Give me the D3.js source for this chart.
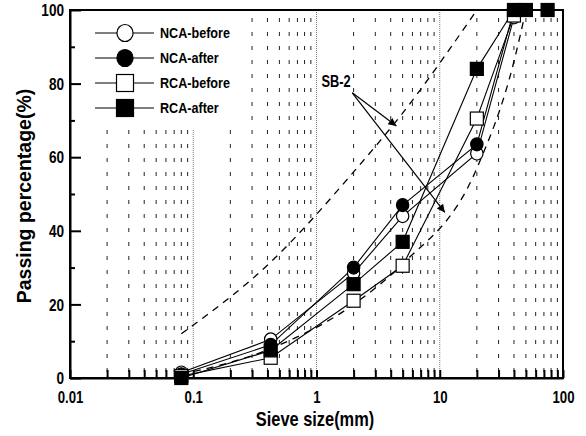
<!DOCTYPE html>
<html><head><meta charset="utf-8">
<script src="https://cdn.jsdelivr.net/npm/d3@7"></script>
<style>
html,body{margin:0;padding:0;background:#fff;}
text{font-family:'Liberation Sans',Arial,sans-serif;font-weight:bold;fill:#000;}
</style></head>
<body><svg id="c" width="586" height="436"></svg>
<script>
// ---- data ----
const sieves = [0.08, 0.425, 2, 5, 20, 40];
const ncaBefore = [1.5, 10.5, 28.5, 44, 61, 98];
const ncaAfter = [1, 9, 30, 47, 63.5, 100];
const rcaBefore = [0.5, 5.5, 21, 30.5, 70.5, 98.5];
const rcaAfterSieves = [0.08, 0.425, 2, 5, 20, 40, 50, 75];
const rcaAfter = [0, 7.5, 25.5, 37, 84, 100, 100, 100];
const sbUpperSieves = [0.08, 0.425, 2, 5, 20];
const sbUpper = [12, 31.5, 56, 72, 100];
const sbLowerSieves = [0.08, 0.425, 2, 5, 20, 40, 50];
const sbLower = [1, 8, 20, 31, 57, 86, 100];
const xTickLabels = ["0.01", "0.1", "1", "10", "100"];
const yTickLabels = ["0", "20", "40", "60", "80", "100"];
const seriesNames = ["NCA-before", "NCA-after", "RCA-before", "RCA-after"];
// annotation anchors (data coords)
const sbLabel = {x: 1.1, y: 79, text: "SB-2"};
const arrowStart = {x: 1.95, y: 77.5};
const arrowEnds = [{x: 4.45, y: 68.5}, {x: 11, y: 45}];

const svg = d3.select("#c");
const L = 70, R = 563, T = 10, B = 378;
const x = d3.scaleLog().domain([0.01, 100]).range([L, R]);
const y = d3.scaleLinear().domain([0, 100]).range([B, T]);

// horizontal condensing of text around its anchor x
function condense(sel, s) {
  sel.each(function () {
    const t = d3.select(this);
    const ax = +t.attr("x") || 0;
    t.attr("transform", `translate(${ax * (1 - s)},0) scale(${s},1)`);
  });
}

// grid
const decades = [0.01, 0.1, 1, 10];
const minorVals = [];
decades.forEach(d => { for (let k = 2; k <= 9; k++) minorVals.push(d * k); });
const grid = svg.append("g");
grid.selectAll("line.mn").data(minorVals).enter().append("line")
  .attr("x1", d => x(d)).attr("x2", d => x(d)).attr("y1", T + 8).attr("y2", B)
  .attr("stroke", "#222").attr("stroke-width", 1).attr("stroke-dasharray", "4,10");
grid.selectAll("line.mj").data([0.1, 1, 10]).enter().append("line")
  .attr("x1", d => x(d)).attr("x2", d => x(d)).attr("y1", T).attr("y2", B)
  .attr("stroke", "#777").attr("stroke-width", 1).attr("stroke-dasharray", "1,1");

// legend background
svg.append("rect").attr("x", L + 2).attr("y", T + 2).attr("width", 170).attr("height", 118).attr("fill", "#fff");

// frame
svg.append("rect").attr("x", L).attr("y", T).attr("width", R - L).attr("height", B - T)
  .attr("fill", "none").attr("stroke", "#000").attr("stroke-width", 2);

// axes
const allX = decades.flatMap(d => d3.range(1, 10).map(k => d * k)).concat([100]);
const xAxis = d3.axisBottom(x).tickValues(allX).tickSizeInner(-8).tickSizeOuter(0)
  .tickFormat(d => { const i = [0.01, 0.1, 1, 10, 100].findIndex(v => Math.abs(v - d) < 1e-9); return i >= 0 ? xTickLabels[i] : ""; });
const gx = svg.append("g").attr("transform", `translate(0,${B})`).call(xAxis);
gx.select(".domain").attr("stroke-width", 2);
gx.selectAll(".tick line").attr("stroke-width", 2);
gx.selectAll("text").attr("font-size", 16.5).attr("y", 25).attr("dy", 0);
condense(gx.selectAll("text"), 0.8);

const yAxis = d3.axisLeft(y).tickValues(d3.range(0, 101, 10)).tickSizeOuter(0)
  .tickFormat(d => d % 20 === 0 ? yTickLabels[d / 20] : "");
const gy = svg.append("g").attr("transform", `translate(${L},0)`).call(yAxis);
gy.select(".domain").attr("stroke-width", 2);
gy.selectAll(".tick line").attr("x2", d => d % 20 === 0 ? 11 : 5).attr("stroke-width", 2);
gy.selectAll("text").attr("font-size", 17).attr("x", -6).attr("dy", "0.34em");
condense(gy.selectAll("text"), 0.8);

// axis titles
const xt = svg.append("text").attr("x", 315).attr("y", 426).attr("text-anchor", "middle")
  .attr("font-size", 20).text("Sieve size(mm)");
condense(xt, 0.82);
svg.append("g").attr("transform", `translate(31,${(T + B) / 2 + 2}) rotate(-90)`)
  .append("text").attr("text-anchor", "middle").attr("font-size", 19.5).text("Passing percentage(%)");

// SB-2 dashed bands
const line = d3.line().x(d => x(d[0])).y(d => y(d[1])).curve(d3.curveMonotoneX);
[[sbUpperSieves, sbUpper], [sbLowerSieves, sbLower]].forEach(([s, v]) => {
  svg.append("path").datum(s.map((d, i) => [d, v[i]])).attr("d", line)
    .attr("fill", "none").attr("stroke", "#000").attr("stroke-width", 1.3).attr("stroke-dasharray", "7,6");
});

// series
const straight = d3.line().x(d => x(d[0])).y(d => y(d[1]));
const series = [
  {s: sieves, v: ncaBefore, shape: "circle", fill: "#fff"},
  {s: sieves, v: ncaAfter, shape: "circle", fill: "#000"},
  {s: sieves, v: rcaBefore, shape: "square", fill: "#fff"},
  {s: rcaAfterSieves, v: rcaAfter, shape: "square", fill: "#000"}
];
series.forEach(se => {
  svg.append("path").datum(se.s.map((d, i) => [d, se.v[i]])).attr("d", straight)
    .attr("fill", "none").attr("stroke", "#000").attr("stroke-width", 1.1);
});
function marker(g, shape, fill, cx, cy, size) {
  if (shape === "circle") g.append("ellipse").attr("cx", cx).attr("cy", cy).attr("rx", size / 2 * 0.95).attr("ry", size / 2)
    .attr("fill", fill).attr("stroke", "#000").attr("stroke-width", 1.2);
  else g.append("rect").attr("x", cx - size / 2).attr("y", cy - size / 2).attr("width", size).attr("height", size)
    .attr("fill", fill).attr("stroke", "#000").attr("stroke-width", 1.2);
}
const mg = svg.append("g");
series.forEach(se => se.s.forEach((d, i) => marker(mg, se.shape, se.fill, x(d), y(se.v[i]), 13)));

// legend
const lg = svg.append("g");
series.forEach((se, i) => {
  const ly = 33 + i * 25;
  lg.append("line").attr("x1", 95).attr("x2", 154).attr("y1", ly).attr("y2", ly).attr("stroke", "#000").attr("stroke-width", 1.2);
  marker(lg, se.shape, se.fill, 125, ly, 17);
  const t = lg.append("text").attr("x", 160).attr("y", ly + 5.5).attr("font-size", 15).text(seriesNames[i]);
  condense(t, 0.84);
});

// annotation
const defs = svg.append("defs");
defs.append("marker").attr("id", "ah").attr("viewBox", "0 0 10 10").attr("refX", 10).attr("refY", 5)
  .attr("markerWidth", 10).attr("markerHeight", 8).attr("orient", "auto").attr("markerUnits", "userSpaceOnUse")
  .append("path").attr("d", "M0,0 L10,5 L0,10 z").attr("fill", "#000");
const sbt = svg.append("text").attr("x", x(sbLabel.x)).attr("y", y(sbLabel.y)).attr("font-size", 16).text(sbLabel.text);
condense(sbt, 0.8);
arrowEnds.forEach(e => {
  svg.append("line").attr("x1", x(arrowStart.x)).attr("y1", y(arrowStart.y)).attr("x2", x(e.x)).attr("y2", y(e.y))
    .attr("stroke", "#000").attr("stroke-width", 1.2).attr("marker-end", "url(#ah)");
});
</script></body></html>
